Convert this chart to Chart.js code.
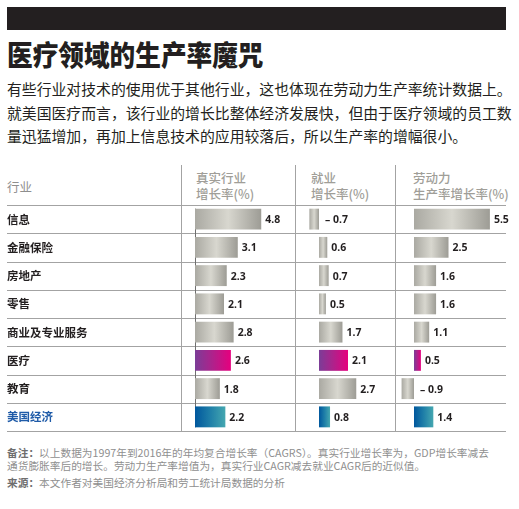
<!DOCTYPE html>
<html lang="zh-CN">
<head>
<meta charset="utf-8">
<title>医疗领域的生产率魔咒</title>
<script src="https://cdn.jsdelivr.net/npm/chart.js@4.4.1/dist/chart.umd.min.js"></script>
<style>
  html, body { margin: 0; padding: 0; background: #fff; }
  body {
    width: 519px; height: 509px; position: relative; overflow: hidden;
    font-family: "Noto Sans CJK SC", "Noto Sans", sans-serif; color: #231f20;
  }
  .topbar { position: absolute; left: 7px; top: 7px; width: 499px; height: 23px; background: #231f20; }
  h1 {
    position: absolute; left: 7px; top: 34px; margin: 0;
    font-size: 28.5px; line-height: 40px; font-weight: 900; white-space: nowrap;
    transform: scaleX(0.9); transform-origin: left center;
  }
  .intro { position: absolute; left: 7px; top: 77px; margin: 0; font-size: 14.85px; line-height: 23.5px; white-space: nowrap; }
  .head { position: absolute; font-size: 12.5px; line-height: 15.5px; font-weight: 500; color: #a09e98; white-space: nowrap; }
  .head.first { color: #8e8e8e; font-weight: 400; }
  .hline { position: absolute; left: 7px; width: 499px; height: 1px; background: #a3a3a3; }
  .vline { position: absolute; width: 1px; background: #a3a3a3; }
  canvas { position: absolute; }
  .note { position: absolute; left: 7px; margin: 0; font-size: 10.7px; line-height: 13px; color: #8f8f8f; white-space: nowrap; }
  .note b { color: #6e6e6e; }
</style>
</head>
<body>
<div class="topbar"></div>
<h1>医疗领域的生产率魔咒</h1>
<p class="intro">有些行业对技术的使用优于其他行业，这也体现在劳动力生产率统计数据上。<br>就美国医疗而言，该行业的增长比整体经济发展快，但由于医疗领域的员工数<br>量迅猛增加，再加上信息技术的应用较落后，所以生产率的增幅很小。</p>

<div id="table"></div>
<canvas id="chart-real" width="288" height="226" style="left:7px;top:205px"></canvas>
<canvas id="chart-jobs" width="99" height="226" style="left:296px;top:205px"></canvas>
<canvas id="chart-prod" width="123" height="226" style="left:396px;top:205px"></canvas>

<p class="note" style="top:446px"><b>备注：</b>以上数据为1997年到2016年的年均复合增长率（CAGRS）。真实行业增长率为，GDP增长率减去<br>通货膨胀率后的增长。劳动力生产率增值为，真实行业CAGR减去就业CAGR后的近似值。</p>
<p class="note" style="top:476px"><b>来源：</b>本文作者对美国经济分析局和劳工统计局数据的分析</p>

<script>
// ---- data ----
const categories = ['信息', '金融保险', '房地产', '零售', '商业及专业服务', '医疗', '教育', '美国经济'];
const realGrowth = [4.8, 3.1, 2.3, 2.1, 2.8, 2.6, 1.8, 2.2];
const jobsGrowth = [-0.7, 0.6, 0.7, 0.5, 1.7, 2.1, 2.7, 0.8];
const prodGrowth = [5.5, 2.5, 1.6, 1.6, 1.1, 0.5, -0.9, 1.4];
const labelHeader = '行业';
const columnHeaders = [['真实行业', '增长率(%)'], ['就业', '增长率(%)'], ['劳动力', '生产率增长率(%)']];

// ---- layout ----
const PX_PER_UNIT = 13.8;
const TABLE_TOP = 205;
const ROW_H = 28.25;
const HEAD_X = [196, 311, 413];
const COL_LINES = [181, 295, 395];

const GRAY = ['#aaa9a2', '#d8d7cf', '#9d9c95'];
const HEALTH = ['#7b3d97', '#b0218b', '#e6007e'];
const ECONOMY = ['#00579d', '#1f7fa8', '#45a7b0'];
const LABEL_BLUE = '#1f5ba8';

function fillsFor(cat) {
  if (cat === '医疗') return HEALTH;
  if (cat === '美国经济') return ECONOMY;
  return GRAY;
}

// ---- table lines & headers ----
const table = document.getElementById('table');
for (let k = 0; k <= categories.length; k++) {
  const d = document.createElement('div');
  d.className = 'hline';
  d.style.top = Math.round(TABLE_TOP + k * ROW_H) + 'px';
  table.appendChild(d);
}
const tableBottom = Math.round(TABLE_TOP + categories.length * ROW_H);
COL_LINES.forEach(x => {
  const d = document.createElement('div');
  d.className = 'vline';
  d.style.left = x + 'px';
  d.style.top = '165px';
  d.style.height = (tableBottom - 165) + 'px';
  table.appendChild(d);
});
const h0 = document.createElement('div');
h0.className = 'head first';
h0.style.left = '7px'; h0.style.top = '179px';
h0.textContent = labelHeader;
table.appendChild(h0);
columnHeaders.forEach((lines, i) => {
  const d = document.createElement('div');
  d.className = 'head';
  d.style.left = HEAD_X[i] + 'px'; d.style.top = '170px';
  d.innerHTML = lines.join('<br>');
  table.appendChild(d);
});

// ---- bar gradient ----
function barFill(ctx) {
  const chart = ctx.chart;
  const colors = fillsFor(categories[ctx.dataIndex]);
  if (!chart.chartArea || ctx.type !== 'data') return colors[1];
  const x = chart.scales.x;
  const v = ctx.raw;
  const a = x.getPixelForValue(Math.min(0, v));
  const b = x.getPixelForValue(Math.max(0, v));
  if (!isFinite(a) || !isFinite(b) || b - a < 1) return colors[1];
  const g = chart.ctx.createLinearGradient(a, 0, b, 0);
  colors.forEach((c, i) => g.addColorStop(i / (colors.length - 1), c));
  return g;
}

// ---- value labels + zero line ----
const valueLabels = {
  id: 'valueLabels',
  beforeDatasetsDraw(chart, args, opts) {
    if (!opts.zeroLine) return;
    const meta = chart.getDatasetMeta(0);
    const first = meta.data[0], last = meta.data[meta.data.length - 1];
    const zx = Math.round(chart.scales.x.getPixelForValue(0)) + 0.5;
    const { ctx } = chart;
    ctx.save();
    ctx.strokeStyle = '#6f6f6f';
    ctx.lineWidth = 1;
    ctx.beginPath();
    ctx.moveTo(zx, first.y - first.height / 2);
    ctx.lineTo(zx, last.y + last.height / 2);
    ctx.stroke();
    ctx.restore();
  },
  afterDatasetsDraw(chart) {
    const { ctx } = chart;
    const meta = chart.getDatasetMeta(0);
    const data = chart.data.datasets[0].data;
    const zero = chart.scales.x.getPixelForValue(0);
    ctx.save();
    ctx.font = 'bold 10.5px "Noto Sans", sans-serif';
    ctx.fillStyle = '#231f20';
    ctx.textBaseline = 'middle';
    ctx.textAlign = 'left';
    meta.data.forEach((bar, i) => {
      const v = data[i];
      const txt = v < 0 ? '– ' + Math.abs(v).toFixed(1) : v.toFixed(1);
      const tx = v < 0 ? zero + 6 : bar.x + 4;
      ctx.fillText(txt, tx, bar.y + 1);
    });
    ctx.restore();
  }
};

function renderColumn(canvasId, values, zeroOffset, areaW, withLabels, zeroLine) {
  const canvas = document.getElementById(canvasId);
  const labelWidth = withLabels ? 175 : 0;
  return new Chart(canvas, {
    type: 'bar',
    data: {
      labels: categories,
      datasets: [{
        data: values,
        backgroundColor: barFill,
        borderWidth: 0,
        barPercentage: 0.74,
        categoryPercentage: 1
      }]
    },
    options: {
      indexAxis: 'y',
      responsive: false,
      animation: false,
      layout: { padding: { left: 0, top: 0, bottom: 0, right: canvas.width - labelWidth - areaW } },
      plugins: {
        legend: { display: false },
        tooltip: { enabled: false },
        valueLabels: { zeroLine }
      },
      scales: {
        x: {
          type: 'linear',
          display: false,
          min: -zeroOffset / PX_PER_UNIT,
          max: (areaW - zeroOffset) / PX_PER_UNIT
        },
        y: {
          display: withLabels,
          grid: { display: false },
          border: { display: false },
          afterFit: s => { s.width = labelWidth; s.paddingTop = 0; s.paddingBottom = 0; },
          ticks: {
            crossAlign: 'far',
            padding: 0,
            font: { family: '"Noto Sans CJK SC", sans-serif', size: 11.5, weight: 'bold' },
            color: c => categories[c.index] === '美国经济' ? LABEL_BLUE : '#231f20'
          }
        }
      }
    },
    plugins: [valueLabels]
  });
}

renderColumn('chart-real', realGrowth, 13, 113, true, true);
renderColumn('chart-jobs', jobsGrowth, 23, 99, false, false);
renderColumn('chart-prod', prodGrowth, 18, 110, false, false);
</script>
</body>
</html>
